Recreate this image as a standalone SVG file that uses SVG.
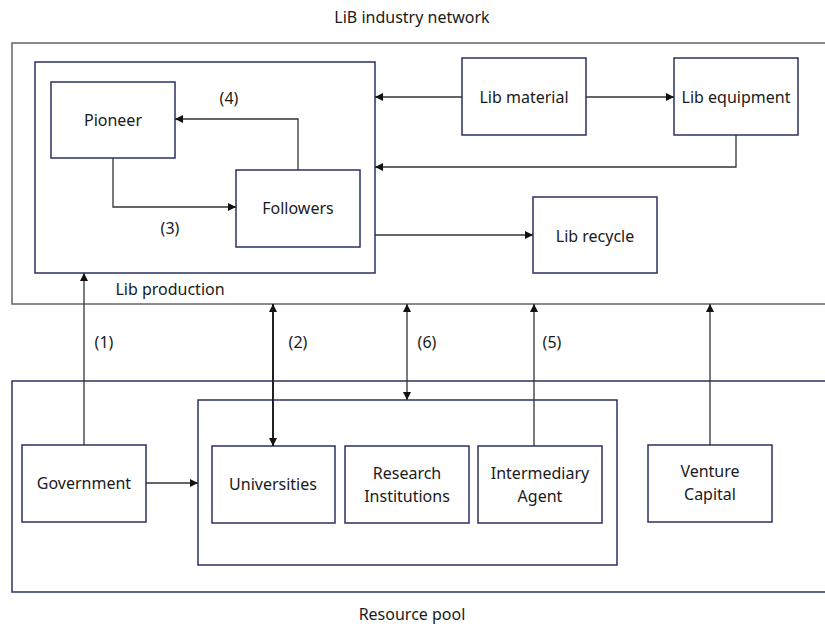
<svg xmlns="http://www.w3.org/2000/svg" width="825" height="627" viewBox="0 0 825 627">
<defs>
<style>
text{font-family:"Noto Sans","Open Sans","Liberation Sans",sans-serif;font-size:16px;fill:#1a1a1a;text-anchor:middle}
.node{fill:#fff;stroke:#2a3160;stroke-width:1.5}
.frame{fill:none;stroke:#2a3160;stroke-width:1.5}
.gray{fill:none;stroke:#666;stroke-width:1.5}
.c{fill:none;stroke:#333;stroke-width:1.3}
.c2{fill:none;stroke:#222;stroke-width:2}
</style>
<marker id="ah" viewBox="0 0 10 10" refX="10" refY="5" markerWidth="8" markerHeight="8" markerUnits="userSpaceOnUse" orient="auto-start-reverse"><path d="M0,0 L10,5 L0,10 z" fill="#111"/></marker>
</defs>
<rect width="825" height="627" fill="#fff"/>
<text x="412" y="23">LiB industry network</text>
<g id="industry-network"><rect class="gray" x="12" y="43" width="830" height="261"/></g>
<g id="resource-pool"><rect class="frame" x="12" y="381" width="830" height="211"/></g>
<text x="412" y="620">Resource pool</text>
<g id="lib-production"><rect class="frame" x="35" y="62" width="340" height="211"/><text x="170" y="295">Lib production</text></g>
<g id="pioneer"><rect class="node" x="51" y="82" width="124" height="76"/><text x="113" y="126">Pioneer</text></g>
<g id="followers"><rect class="node" x="236" y="170" width="124" height="77"/><text x="298" y="214">Followers</text></g>
<g id="lib-material"><rect class="node" x="462" y="58" width="124" height="77"/><text x="524" y="103">Lib material</text></g>
<g id="lib-equipment"><rect class="node" x="674" y="58" width="124" height="77"/><text x="736" y="103">Lib equipment</text></g>
<g id="lib-recycle"><rect class="node" x="533" y="197" width="124" height="76"/><text x="595" y="242">Lib recycle</text></g>
<g id="institutions-group"><rect class="frame" x="198" y="400" width="419" height="165"/></g>
<g id="government"><rect class="node" x="22" y="445" width="124" height="77"/><text x="84" y="489">Government</text></g>
<g id="universities"><rect class="node" x="212" y="446" width="123" height="77"/><text x="273" y="490">Universities</text></g>
<g id="research-institutions"><rect class="node" x="345" y="446" width="124" height="77"/><text x="407" y="479">Research</text><text x="407" y="502">Institutions</text></g>
<g id="intermediary-agent"><rect class="node" x="478" y="446" width="124" height="77"/><text x="540" y="479">Intermediary</text><text x="540" y="502">Agent</text></g>
<g id="venture-capital"><rect class="node" x="648" y="445" width="124" height="77"/><text x="710" y="477">Venture</text><text x="710" y="500">Capital</text></g>
<g id="connectors">
<polyline class="c" points="298,170 298,119 175,119" marker-end="url(#ah)"/>
<polyline class="c" points="113,158 113,207 236,207" marker-end="url(#ah)"/>
<line class="c" x1="462" y1="97" x2="375" y2="97" marker-end="url(#ah)"/>
<line class="c" x1="586" y1="97" x2="674" y2="97" marker-end="url(#ah)"/>
<polyline class="c" points="736,135 736,167 375,167" marker-end="url(#ah)"/>
<line class="c" x1="375" y1="235" x2="533" y2="235" marker-end="url(#ah)"/>
<line class="c" x1="84" y1="445" x2="84" y2="273" marker-end="url(#ah)"/>
<line class="c" x1="146" y1="483" x2="198" y2="483" marker-end="url(#ah)"/>
<line class="c2" x1="273" y1="304" x2="273" y2="446" marker-start="url(#ah)" marker-end="url(#ah)"/>
<line class="c" x1="407" y1="304" x2="407" y2="400" marker-start="url(#ah)" marker-end="url(#ah)"/>
<line class="c" x1="534" y1="446" x2="534" y2="304" marker-end="url(#ah)"/>
<line class="c" x1="710" y1="445" x2="710" y2="304" marker-end="url(#ah)"/>
<text x="229" y="104">(4)</text>
<text x="170" y="234">(3)</text>
<text x="104" y="348">(1)</text>
<text x="298" y="348">(2)</text>
<text x="427" y="348">(6)</text>
<text x="552" y="348">(5)</text>
</g>
</svg>
